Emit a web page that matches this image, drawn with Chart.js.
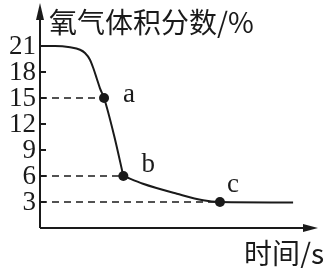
<!DOCTYPE html>
<html><head><meta charset="utf-8">
<script src="https://cdn.jsdelivr.net/npm/chart.js@4/dist/chart.umd.min.js"></script>
<style>html,body{margin:0;padding:0;background:#fff}canvas{display:block}</style>
</head><body>
<canvas id="c" width="326" height="268"></canvas>
<script>
// Curve (time in arbitrary units 0-100, oxygen volume fraction %)
const dropTime = [0, 5.4, 10.9, 14.5, 16.3, 18.1, 19.3, 20.5, 21.7, 23.2, 26.8, 30.2];
const dropO2   = [21, 21, 20.85, 20.57, 20.19, 19.42, 18.46, 17.31, 16.15, 15, 10.73, 6];
const tailTime = [30.2, 37.3, 49.6, 59.1, 65.2, 91.7];
const tailO2   = [6, 5.1, 3.95, 3.19, 3, 2.95];
// Marked points
const pointNames = ['a', 'b', 'c'];
const pointTime  = [23.2, 30.2, 65.2];
const pointO2    = [15, 6, 3];
// Axis
const yTicks = [3, 6, 9, 12, 15, 18, 21];
const yTitle = '氧气体积分数/%';
const xTitle = '时间/s';

const toXY = (xs, ys) => xs.map((x, i) => ({x, y: ys[i]}));
const INK = '#1a1a1a';

const datasets = [
  {data: toXY(dropTime, dropO2), borderColor: INK, borderWidth: 2, pointRadius: 0, cubicInterpolationMode: 'monotone', fill: false},
  {data: toXY(tailTime, tailO2), borderColor: INK, borderWidth: 2, pointRadius: 0, cubicInterpolationMode: 'monotone', fill: false}
];
pointTime.forEach((t, i) => {
  datasets.push({data: [{x: 0, y: pointO2[i]}, {x: t, y: pointO2[i]}], borderColor: INK, borderWidth: 1.6, borderDash: [7, 5], pointRadius: 0, tension: 0, fill: false});
});
datasets.push({data: toXY(pointTime, pointO2), showLine: false, pointRadius: 5, pointBackgroundColor: INK, pointBorderColor: INK, pointBorderWidth: 0});

const deco = {
  id: 'deco',
  afterDatasetsDraw(chart) {
    const {ctx, chartArea: a, scales: {x, y}} = chart;
    ctx.save();
    ctx.strokeStyle = INK; ctx.fillStyle = INK; ctx.lineWidth = 2;
    // axes
    ctx.beginPath();
    ctx.moveTo(a.left, a.bottom); ctx.lineTo(a.left, 12);
    ctx.moveTo(a.left, a.bottom); ctx.lineTo(a.right - 8, a.bottom);
    ctx.stroke();
    // arrows
    ctx.beginPath();
    ctx.moveTo(a.left, 3); ctx.lineTo(a.left - 4, 20); ctx.lineTo(a.left + 4, 20); ctx.closePath(); ctx.fill();
    ctx.beginPath();
    ctx.moveTo(a.right + 2, a.bottom); ctx.lineTo(a.right - 13, a.bottom - 4); ctx.lineTo(a.right - 13, a.bottom + 4); ctx.closePath(); ctx.fill();
    // ticks
    ctx.lineWidth = 1.8;
    ctx.beginPath();
    yTicks.forEach(v => { const py = y.getPixelForValue(v); ctx.moveTo(a.left, py); ctx.lineTo(a.left + 6, py); });
    ctx.stroke();
    ctx.font = '27px "Liberation Serif"';
    ctx.textAlign = 'right'; ctx.textBaseline = 'middle';
    yTicks.forEach(v => ctx.fillText(String(v), a.left - 4, y.getPixelForValue(v) + 1));
    // point labels
    const offs = [[25, -1], [25, -9], [13, -15]];
    ctx.textAlign = 'center';
    ctx.font = '27px "Liberation Serif"';
    pointNames.forEach((n, i) => ctx.fillText(n, x.getPixelForValue(pointTime[i]) + offs[i][0], y.getPixelForValue(pointO2[i]) + offs[i][1] - 2));
    // titles
    ctx.font = '28px "Noto Sans CJK SC"';
    ctx.textAlign = 'left'; ctx.textBaseline = 'middle';
    ctx.fillText(yTitle, a.left + 9, 22);
    ctx.textAlign = 'right';
    ctx.fillText(xTitle, 324, 253);
    ctx.restore();
  }
};

new Chart(document.getElementById('c'), {
  type: 'line',
  data: {datasets},
  options: {
    responsive: false, animation: false, events: [],
    layout: {padding: {left: 40, right: 10, top: 7, bottom: 40}},
    plugins: {legend: {display: false}, tooltip: {enabled: false}},
    scales: {
      x: {type: 'linear', min: 0, max: 100, display: false},
      y: {type: 'linear', min: 0, max: 25.5, display: false}
    }
  },
  plugins: [deco]
});
</script>
</body></html>
